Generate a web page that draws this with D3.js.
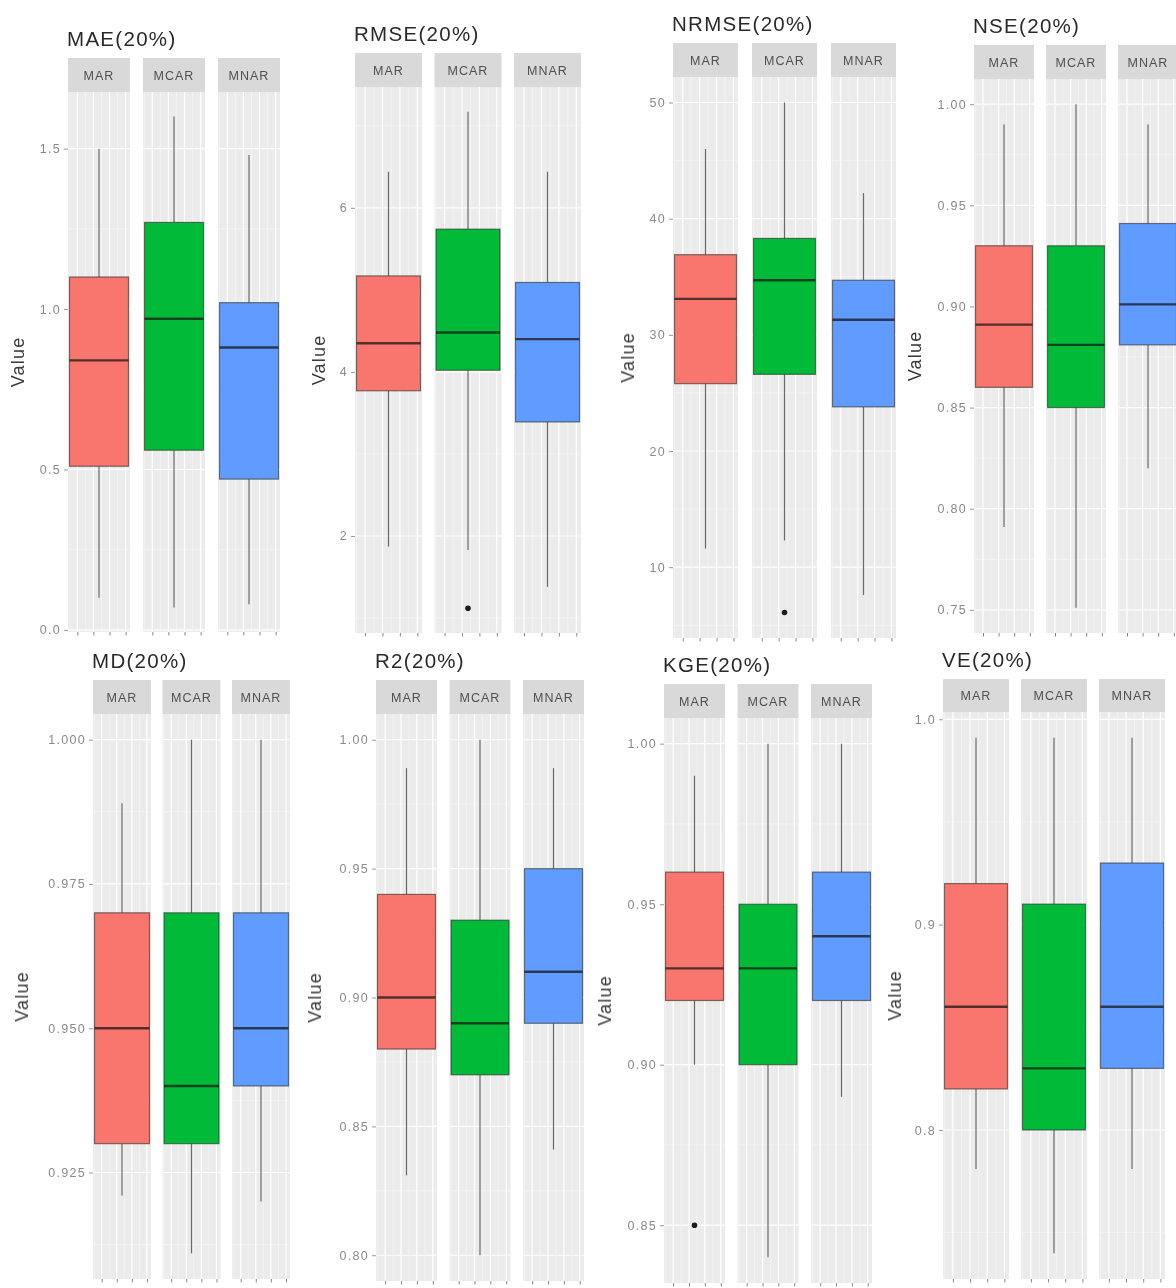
<!DOCTYPE html>
<html><head><meta charset="utf-8">
<script src="https://cdn.jsdelivr.net/npm/d3@7"></script>
<style>body{margin:0;background:#fff}svg{display:block}text{font-family:"Liberation Sans",Arial,sans-serif}</style>
</head><body><svg id="c" width="1176" height="1288"></svg>
<script>
// ---------- data ----------
const mechanisms = ["MAR", "MCAR", "MNAR"];
const metricNames = ["MAE", "RMSE", "NRMSE", "NSE", "MD", "R2", "KGE", "VE"];
const titleSuffix = "(20%)";
const yAxisTitle = "Value";

// [lower whisker, Q1, median, Q3, upper whisker] for MAR, MCAR, MNAR
const maeStats   = [[0.10, 0.51, 0.84, 1.10, 1.50], [0.07, 0.56, 0.97, 1.27, 1.60], [0.08, 0.47, 0.88, 1.02, 1.48]];
const rmseStats  = [[1.87, 3.77, 4.35, 5.17, 6.44], [1.83, 4.02, 4.48, 5.74, 7.17], [1.38, 3.39, 4.40, 5.09, 6.44]];
const nrmseStats = [[11.6, 25.8, 33.1, 36.9, 46.0], [12.3, 26.6, 34.7, 38.3, 50.0], [7.6, 23.8, 31.3, 34.7, 42.2]];
const nseStats   = [[0.791, 0.860, 0.891, 0.930, 0.990], [0.751, 0.850, 0.881, 0.930, 1.000], [0.820, 0.881, 0.901, 0.941, 0.990]];
const mdStats    = [[0.921, 0.930, 0.950, 0.970, 0.989], [0.911, 0.930, 0.940, 0.970, 1.000], [0.920, 0.940, 0.950, 0.970, 1.000]];
const r2Stats    = [[0.831, 0.880, 0.900, 0.940, 0.989], [0.800, 0.870, 0.890, 0.930, 1.000], [0.841, 0.890, 0.910, 0.950, 0.989]];
const kgeStats   = [[0.900, 0.920, 0.930, 0.960, 0.990], [0.840, 0.900, 0.930, 0.950, 1.000], [0.890, 0.920, 0.940, 0.960, 1.000]];
const veStats    = [[0.781, 0.820, 0.860, 0.920, 0.991], [0.740, 0.800, 0.830, 0.910, 0.991], [0.781, 0.830, 0.860, 0.930, 0.991]];

// outliers per mechanism
const maeOutliers   = [[], [], []];
const rmseOutliers  = [[], [1.12], []];
const nrmseOutliers = [[], [6.1], []];
const nseOutliers   = [[], [], []];
const mdOutliers    = [[], [], []];
const r2Outliers    = [[], [], []];
const kgeOutliers   = [[0.85], [], []];
const veOutliers    = [[], [], []];

// y tick values and labels
const maeTicks   = [0.0, 0.5, 1.0, 1.5];           const maeLabels   = ["0.0", "0.5", "1.0", "1.5"];
const rmseTicks  = [2, 4, 6];                      const rmseLabels  = ["2", "4", "6"];
const nrmseTicks = [10, 20, 30, 40, 50];           const nrmseLabels = ["10", "20", "30", "40", "50"];
const nseTicks   = [0.75, 0.80, 0.85, 0.90, 0.95, 1.00]; const nseLabels = ["0.75", "0.80", "0.85", "0.90", "0.95", "1.00"];
const mdTicks    = [0.925, 0.950, 0.975, 1.000];   const mdLabels    = ["0.925", "0.950", "0.975", "1.000"];
const r2Ticks    = [0.80, 0.85, 0.90, 0.95, 1.00]; const r2Labels    = ["0.80", "0.85", "0.90", "0.95", "1.00"];
const kgeTicks   = [0.85, 0.90, 0.95, 1.00];       const kgeLabels   = ["0.85", "0.90", "0.95", "1.00"];
const veTicks    = [0.8, 0.9, 1.0];                const veLabels    = ["0.8", "0.9", "1.0"];

// ---------- styles / layout ----------
const fills = ["#F8766D", "#00BA38", "#619CFF"];
const xTickFrac = [0.15, 0.41, 0.67, 0.93];
const layout = [
  {x0: 68,  fw: 62, pitch: 75,   stripTop: 58,  top: 92,  bottom: 632,  valueX: 18},
  {x0: 355, fw: 67, pitch: 79.5, stripTop: 53,  top: 87,  bottom: 633,  valueX: 319},
  {x0: 673, fw: 65, pitch: 79,   stripTop: 43,  top: 77,  bottom: 638,  valueX: 628},
  {x0: 974, fw: 60, pitch: 72,   stripTop: 45,  top: 79,  bottom: 633,  valueX: 915},
  {x0: 93,  fw: 58, pitch: 69.5, stripTop: 680, top: 714, bottom: 1279, valueX: 22},
  {x0: 376, fw: 61, pitch: 73.5, stripTop: 680, top: 714, bottom: 1281, valueX: 315},
  {x0: 664, fw: 61, pitch: 73.5, stripTop: 684, top: 718, bottom: 1283, valueX: 605},
  {x0: 943, fw: 66, pitch: 78,   stripTop: 679, top: 712, bottom: 1279, valueX: 895}
];

const statsTable = [maeStats, rmseStats, nrmseStats, nseStats, mdStats, r2Stats, kgeStats, veStats];
const outlierTable = [maeOutliers, rmseOutliers, nrmseOutliers, nseOutliers, mdOutliers, r2Outliers, kgeOutliers, veOutliers];
const tickTable = [maeTicks, rmseTicks, nrmseTicks, nseTicks, mdTicks, r2Ticks, kgeTicks, veTicks];
const labelTable = [maeLabels, rmseLabels, nrmseLabels, nseLabels, mdLabels, r2Labels, kgeLabels, veLabels];

const svg = d3.select("#c");
svg.append("defs").append("filter").attr("id", "soft")
  .attr("x", "-5%").attr("y", "-5%").attr("width", "110%").attr("height", "110%")
  .append("feGaussianBlur").attr("stdDeviation", 0.5);
const root = svg.append("g").attr("filter", "url(#soft)");

metricNames.forEach((name, pi) => {
  const L = layout[pi];
  const stats = statsTable[pi], outs = outlierTable[pi];
  const ticks = tickTable[pi], labels = labelTable[pi];
  const allVals = stats.flat().concat(outs.flat());
  const lo = d3.min(allVals), hi = d3.max(allVals), r = hi - lo;
  const y = d3.scaleLinear().domain([lo - 0.05 * r, hi + 0.05 * r]).range([L.bottom, L.top]);
  const x = d3.scaleBand().domain(mechanisms)
    .range([L.x0, L.x0 + 2 * L.pitch + L.fw])
    .paddingInner(1 - L.fw / L.pitch).paddingOuter(0);
  const step = ticks[1] - ticks[0];
  const dom = y.domain();
  const minor = [];
  for (let v = ticks[0] - step / 2; v <= dom[1]; v += step) if (v >= dom[0]) minor.push(v);

  const g = root.append("g");

  mechanisms.forEach((m, mi) => {
    const fx = x(m), bw = x.bandwidth();
    const inner = d3.scaleLinear().domain([0, 1]).range([fx, fx + bw]);
    const fg = g.append("g");
    fg.append("rect").attr("x", fx).attr("y", L.top).attr("width", bw).attr("height", L.bottom - L.top).attr("fill", "#EBEBEB");
    fg.selectAll(".hmin").data(minor).enter().append("line")
      .attr("x1", fx).attr("x2", fx + bw).attr("y1", d => y(d)).attr("y2", d => y(d))
      .attr("stroke", "#F7F7F7").attr("stroke-width", 0.7);
    fg.selectAll(".hmaj").data(ticks).enter().append("line")
      .attr("x1", fx).attr("x2", fx + bw).attr("y1", d => y(d)).attr("y2", d => y(d))
      .attr("stroke", "#FFFFFF").attr("stroke-width", 1.2);
    const vmin = [];
    for (let i = 0; i < xTickFrac.length - 1; i++) vmin.push((xTickFrac[i] + xTickFrac[i + 1]) / 2);
    vmin.push(xTickFrac[0] - (xTickFrac[1] - xTickFrac[0]) / 2);
    fg.selectAll(".vmin").data(vmin).enter().append("line")
      .attr("x1", d => inner(d)).attr("x2", d => inner(d)).attr("y1", L.top).attr("y2", L.bottom)
      .attr("stroke", "#F7F7F7").attr("stroke-width", 0.7);
    fg.selectAll(".vmaj").data(xTickFrac).enter().append("line")
      .attr("x1", d => inner(d)).attr("x2", d => inner(d)).attr("y1", L.top).attr("y2", L.bottom)
      .attr("stroke", "#FFFFFF").attr("stroke-width", 1.2);
    // strip
    fg.append("rect").attr("x", fx).attr("y", L.stripTop).attr("width", bw).attr("height", L.top - L.stripTop).attr("fill", "#D9D9D9");
    fg.append("text").attr("x", fx + bw / 2).attr("y", (L.stripTop + L.top) / 2 + 4.5)
      .attr("text-anchor", "middle").attr("font-size", 12.5).attr("letter-spacing", 1)
      .attr("fill", "#505050").text(m);

    // box
    const s = stats[mi];
    const cx = fx + bw / 2;
    const bx0 = fx + 1.5, bx1 = fx + bw - 1.5;
    fg.append("line").attr("x1", cx).attr("x2", cx).attr("y1", y(s[0])).attr("y2", y(s[1]))
      .attr("stroke", "#555").attr("stroke-width", 1.2).attr("stroke-opacity", 0.85);
    fg.append("line").attr("x1", cx).attr("x2", cx).attr("y1", y(s[3])).attr("y2", y(s[4]))
      .attr("stroke", "#555").attr("stroke-width", 1.2).attr("stroke-opacity", 0.85);
    fg.append("rect").attr("x", bx0).attr("y", y(s[3])).attr("width", bx1 - bx0).attr("height", y(s[1]) - y(s[3]))
      .attr("fill", fills[mi]).attr("stroke", "rgba(40,40,40,0.6)").attr("stroke-width", 1.2);
    fg.append("line").attr("x1", bx0).attr("x2", bx1).attr("y1", y(s[2])).attr("y2", y(s[2]))
      .attr("stroke", "rgba(20,20,20,0.72)").attr("stroke-width", 2.4);
    fg.selectAll(".out").data(outs[mi]).enter().append("circle")
      .attr("cx", cx).attr("cy", d => y(d)).attr("r", 2.8).attr("fill", "#1a1a1a");

    const xa = fg.append("g").attr("transform", `translate(0,${L.bottom})`)
      .call(d3.axisBottom(inner).tickValues(xTickFrac).tickFormat("").tickSize(3.5));
    xa.select(".domain").remove();
    xa.selectAll("line").attr("stroke", "#888");
  });

  const ya = g.append("g").attr("transform", `translate(${L.x0},0)`)
    .call(d3.axisLeft(y).tickValues(ticks).tickFormat((d, i) => labels[i]).tickSize(4).tickPadding(3));
  ya.select(".domain").remove();
  ya.selectAll("line").attr("stroke", "#999");
  ya.selectAll("text").attr("font-size", 12.5).attr("fill", "#8a8a8a")
    .attr("font-family", "'Liberation Sans', Arial, sans-serif").attr("letter-spacing", 1.3);

  g.append("text").attr("x", L.x0 - 1).attr("y", L.stripTop - 12)
    .attr("font-size", 20.5).attr("letter-spacing", 1.3).attr("fill", "#2b2b2b").text(name + titleSuffix);

  g.append("text").attr("transform", `translate(${L.valueX + 6},${(L.top + L.bottom) / 2}) rotate(-90)`)
    .attr("text-anchor", "middle").attr("font-size", 18).attr("letter-spacing", 1.2)
    .attr("fill", "#3a3a3a").text(yAxisTitle);
});
</script></body></html>
